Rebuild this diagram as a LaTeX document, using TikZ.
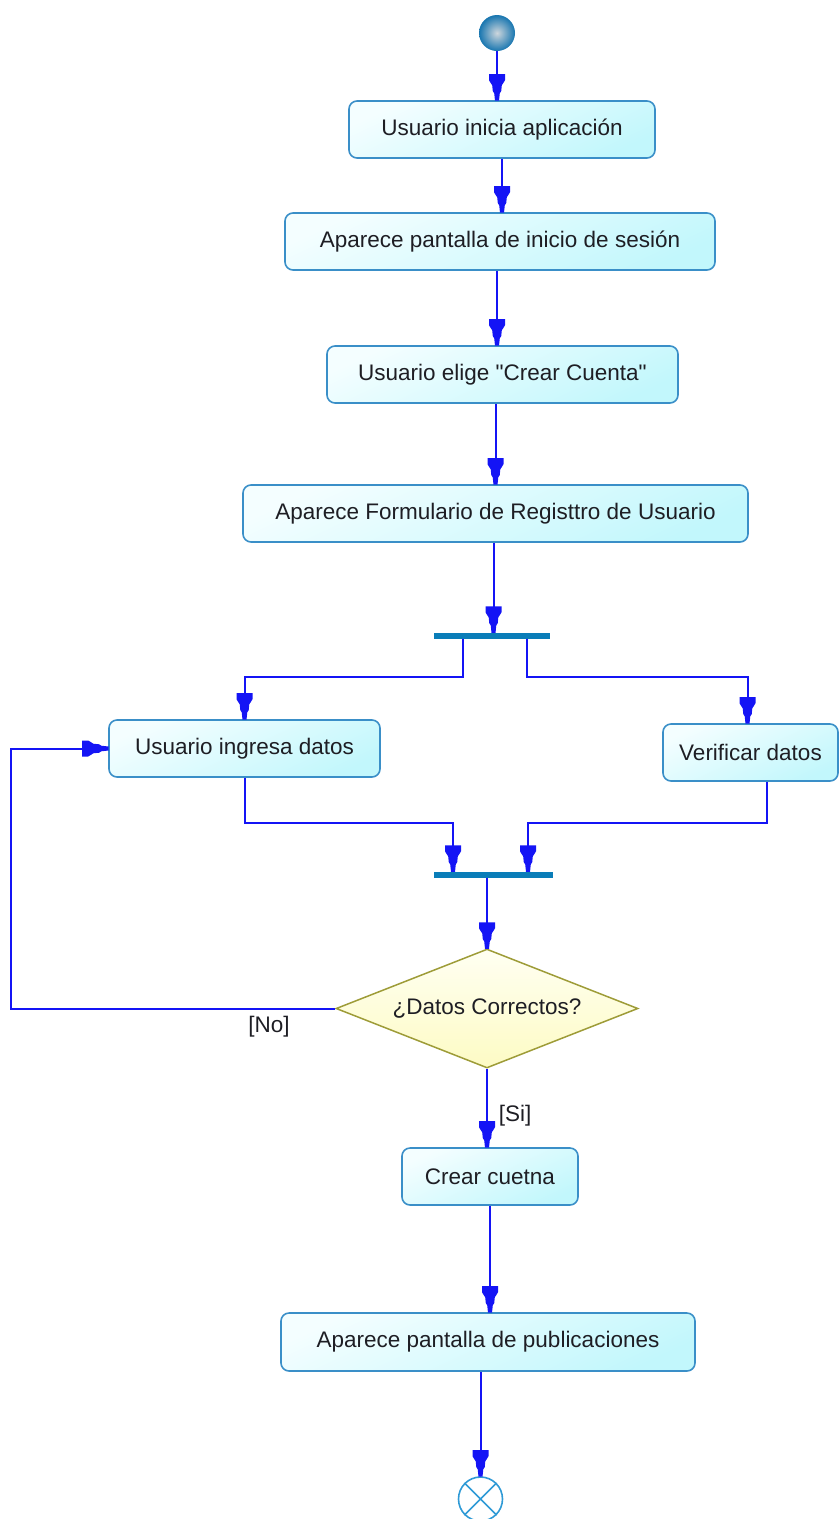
\documentclass[tikz,border=0pt]{standalone}
\usepackage{fontspec}
\setmainfont{Liberation Sans}[Ligatures=TeXOff]
\usetikzlibrary{arrows.meta,shapes.geometric,calc}

\definecolor{flowblue}{HTML}{1414F5}
\definecolor{boxedge}{HTML}{3A8FC8}
\definecolor{boxtop}{HTML}{F4FEFF}
\definecolor{boxbot}{HTML}{C2F7FC}
\definecolor{barblue}{HTML}{0A7DB8}
\definecolor{decedge}{HTML}{9E9C38}
\definecolor{dectop}{HTML}{FFFFF2}
\definecolor{decbot}{HTML}{FDFBC4}
\definecolor{inkdark}{HTML}{1E1E24}
\definecolor{endedge}{HTML}{2F9AD6}

% stubby filled tip used on every transition
\pgfdeclarearrow{
  name = Plug,
  parameters = {\the\pgflinewidth},
  setup code = {
    \pgfarrowssettipend{0pt}
    \pgfarrowssetlineend{-12pt}
    \pgfarrowssetbackend{-26pt}
    \pgfarrowshullpoint{0pt}{0pt}
    \pgfarrowshullpoint{-26pt}{8pt}
    \pgfarrowshullpoint{-26pt}{-8pt}
  },
  drawing code = {
    \pgfpathmoveto{\pgfqpoint{0.5pt}{2pt}}
    \pgfpathlineto{\pgfqpoint{-7pt}{2.8pt}}
    \pgfpathlineto{\pgfqpoint{-9pt}{4.2pt}}
    \pgfpathlineto{\pgfqpoint{-15pt}{4.8pt}}
    \pgfpathlineto{\pgfqpoint{-17pt}{6.2pt}}
    \pgfpathlineto{\pgfqpoint{-20pt}{8pt}}
    \pgfpathlineto{\pgfqpoint{-26pt}{8pt}}
    \pgfpathlineto{\pgfqpoint{-26pt}{-8pt}}
    \pgfpathlineto{\pgfqpoint{-20pt}{-8pt}}
    \pgfpathlineto{\pgfqpoint{-17pt}{-6.2pt}}
    \pgfpathlineto{\pgfqpoint{-15pt}{-4.8pt}}
    \pgfpathlineto{\pgfqpoint{-9pt}{-4.2pt}}
    \pgfpathlineto{\pgfqpoint{-7pt}{-2.8pt}}
    \pgfpathlineto{\pgfqpoint{0.5pt}{-2pt}}
    \pgfpathclose
    \pgfusepathqfill
  }
}

\tikzset{
  actbox/.style={draw=boxedge, line width=1.6pt, rounded corners=8pt,
    top color=boxtop, bottom color=boxbot, shading angle=25,
    minimum height=57pt, inner sep=0pt, text=inkdark,
    font=\fontsize{22.5}{27}\selectfont},
  syncbar/.style={fill=barblue, draw=none, minimum height=6pt, inner sep=0pt},
  decision/.style={diamond, aspect=2.54, draw=decedge, line width=1.5pt,
    top color=dectop, bottom color=decbot,
    minimum width=302pt, minimum height=119pt, inner sep=0pt, text=inkdark,
    font=\fontsize{22.5}{27}\selectfont},
  guard/.style={text=inkdark, inner sep=0pt, font=\fontsize{22.5}{27}\selectfont},
  flow/.style={draw=flowblue, line width=2pt, -{Plug}},
}

\begin{document}
\begin{tikzpicture}[x=1pt, y=-1pt]
\useasboundingbox (0,0) rectangle (840,1519);

% initial node
\node[circle, minimum size=36pt, inner sep=0pt, draw=none,
      inner color={rgb,255:red,205;green,214;blue,220},
      outer color={rgb,255:red,24;green,118;blue,176}] (start) at (497,33) {};

% activities
\node[actbox, minimum width=306pt] (a1) at (502,129.5) {Usuario inicia aplicación};
\node[actbox, minimum width=430pt] (a2) at (500,241.5) {Aparece pantalla de inicio de sesión};
\node[actbox, minimum width=351pt] (a3) at (502.5,374.5) {Usuario elige "Crear Cuenta"};
\node[actbox, minimum width=505pt] (a4) at (495.5,513.5) {Aparece Formulario de Registtro de Usuario};

\node[syncbar, minimum width=116pt] (fork) at (492,635.5) {};

\node[actbox, minimum width=271pt] (a5) at (244.5,748.5) {Usuario ingresa datos};
\node[actbox, minimum width=175pt] (a6) at (750.5,752.5) {Verificar datos};

\node[syncbar, minimum width=119pt] (join) at (493.5,874.5) {};

\node[decision] (dec) at (487,1008.5) {¿Datos Correctos?};

\node[actbox, minimum width=176pt] (a7) at (490,1176.5) {Crear cuetna};
\node[actbox, minimum width=414pt, minimum height=58pt] (a8) at (488,1342) {Aparece pantalla de publicaciones};

% final node
\node[circle, minimum size=44pt, inner sep=0pt, draw=endedge, line width=1.6pt, fill=white] (end) at (480.5,1499) {};
\draw[endedge, line width=1.6pt] (end.45) -- (end.225) (end.135) -- (end.315);

% transitions
\draw[flow] (start.south) -- (start.south |- a1.north);
\draw[flow] (a1.south) -- (a1.south |- a2.north);
\draw[flow] ([xshift=-3pt]a2.south) -- ([xshift=-3pt]a2.south |- a3.north);
\draw[flow] ([xshift=-7pt]a3.south) -- ([xshift=-7pt]a3.south |- a4.north);
\draw[flow] ([xshift=-2pt]a4.south) -- ([xshift=-2pt]a4.south |- fork.north);

\draw[flow] ([xshift=-29pt]fork.south) -- ++(0,38) -| (a5.north);
\draw[flow] ([xshift=35pt]fork.south) -- ++(0,38) -| ([xshift=-3pt]a6.north);

\draw[flow] (a5.south) -- ++(0,45) -| ([xshift=-40.5pt]join.north);
\draw[flow] ([xshift=16pt]a6.south) -- ++(0,41) -| ([xshift=34.5pt]join.north);

\draw[flow] (join.south -| dec.north) -- (dec.north);

\draw[flow] (dec.west) -- ++(-324,0) |- (a5.west);
\node[guard] (no) at (269,1027) {[No]};

\draw[flow] (dec.south) -- (dec.south |- a7.north);
\node[guard] (si) at (515,1116) {[Si]};

\draw[flow] (a7.south) -- (a7.south |- a8.north);
\draw[flow] (a8.south -| end.north) -- (end.north);
\end{tikzpicture}
\end{document}
